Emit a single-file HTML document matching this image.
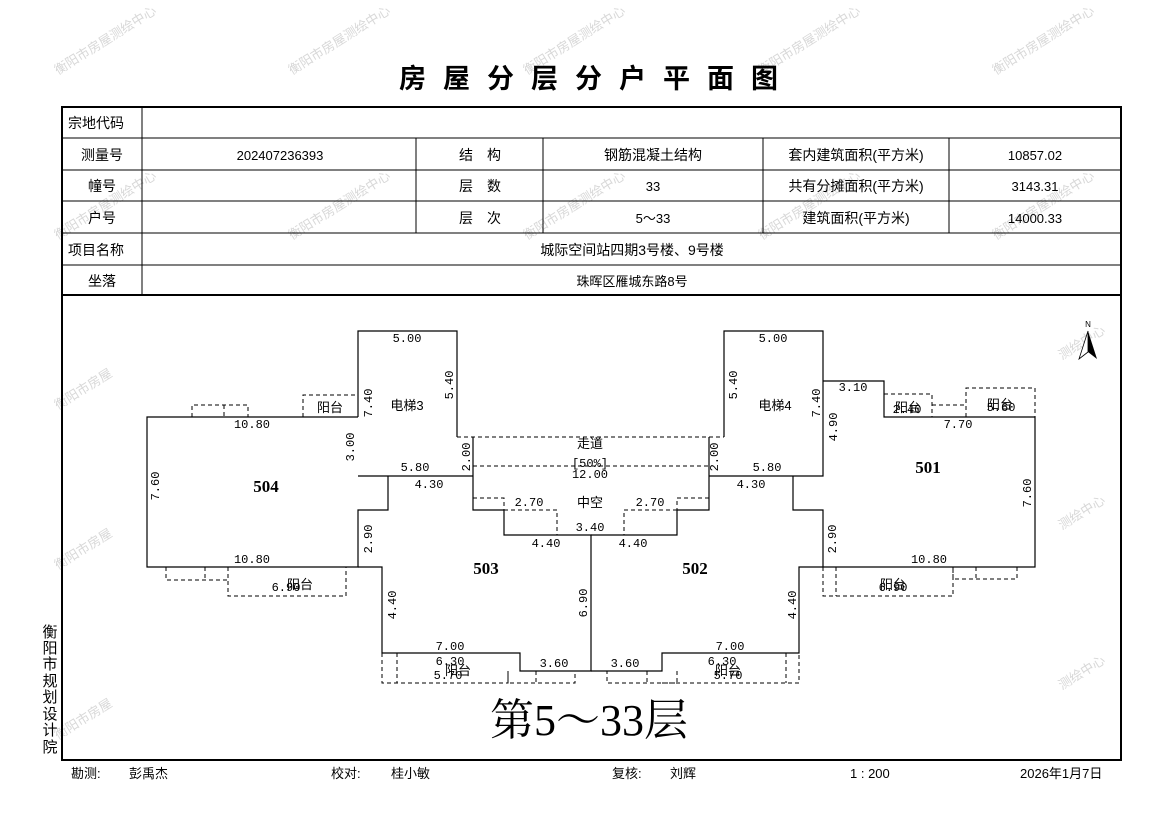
<!DOCTYPE html>
<html><head><meta charset="utf-8"><style>
html,body{margin:0;padding:0;background:#fff}
svg{display:block}
text{font-family:"Liberation Sans","Noto Sans CJK SC",sans-serif}
text.d{font-family:"Liberation Mono","DejaVu Sans Mono",monospace;font-size:12px;fill:#000}
.wm{font-size:13px;fill:#d8d8d8}
.t{font-size:14px}
</style></head><body>
<svg width="1169" height="827" viewBox="0 0 1169 827" xmlns="http://www.w3.org/2000/svg">
<g class="wm">
<text transform="translate(58,75) rotate(-32)">衡阳市房屋测绘中心</text>
<text transform="translate(292,75) rotate(-32)">衡阳市房屋测绘中心</text>
<text transform="translate(527,75) rotate(-32)">衡阳市房屋测绘中心</text>
<text transform="translate(762,75) rotate(-32)">衡阳市房屋测绘中心</text>
<text transform="translate(996,75) rotate(-32)">衡阳市房屋测绘中心</text>
<text transform="translate(58,240) rotate(-32)">衡阳市房屋测绘中心</text>
<text transform="translate(292,240) rotate(-32)">衡阳市房屋测绘中心</text>
<text transform="translate(527,240) rotate(-32)">衡阳市房屋测绘中心</text>
<text transform="translate(762,240) rotate(-32)">衡阳市房屋测绘中心</text>
<text transform="translate(996,240) rotate(-32)">衡阳市房屋测绘中心</text>
<text transform="translate(58,410) rotate(-32)">衡阳市房屋</text>
<text transform="translate(58,570) rotate(-32)">衡阳市房屋</text>
<text transform="translate(58,740) rotate(-32)">衡阳市房屋</text>
<text transform="translate(1062,360) rotate(-32)">测绘中心</text>
<text transform="translate(1062,530) rotate(-32)">测绘中心</text>
<text transform="translate(1062,690) rotate(-32)">测绘中心</text>
</g>
<text x="597" y="88" text-anchor="middle" font-size="27" font-weight="bold" letter-spacing="17">房屋分层分户平面图</text>
<rect x="62" y="107" width="1059" height="653" fill="none" stroke="#000" stroke-width="2"/>
<g stroke="#000" stroke-width="1">
<line x1="62" y1="138" x2="1121" y2="138"/>
<line x1="62" y1="170" x2="1121" y2="170"/>
<line x1="62" y1="201" x2="1121" y2="201"/>
<line x1="62" y1="233" x2="1121" y2="233"/>
<line x1="62" y1="265" x2="1121" y2="265"/>
<line x1="62" y1="295" x2="1121" y2="295" stroke-width="2"/>
<line x1="142" y1="107" x2="142" y2="295"/>
<line x1="416" y1="138" x2="416" y2="233"/>
<line x1="543" y1="138" x2="543" y2="233"/>
<line x1="763" y1="138" x2="763" y2="233"/>
<line x1="949" y1="138" x2="949" y2="233"/>
</g>
<g class="t">
<text x="68" y="128">宗地代码</text>
<text x="102" y="160" text-anchor="middle">测量号</text>
<text x="280" y="160" text-anchor="middle" font-size="13">202407236393</text>
<text x="480" y="160" text-anchor="middle">结　构</text>
<text x="653" y="160" text-anchor="middle">钢筋混凝土结构</text>
<text x="856" y="160" text-anchor="middle">套内建筑面积(平方米)</text>
<text x="1035" y="160" text-anchor="middle" font-size="13">10857.02</text>
<text x="102" y="191" text-anchor="middle">幢号</text>
<text x="480" y="191" text-anchor="middle">层　数</text>
<text x="653" y="191" text-anchor="middle" font-size="13">33</text>
<text x="856" y="191" text-anchor="middle">共有分摊面积(平方米)</text>
<text x="1035" y="191" text-anchor="middle" font-size="13">3143.31</text>
<text x="102" y="223" text-anchor="middle">户号</text>
<text x="480" y="223" text-anchor="middle">层　次</text>
<text x="653" y="223" text-anchor="middle" font-size="13">5～33</text>
<text x="856" y="223" text-anchor="middle">建筑面积(平方米)</text>
<text x="1035" y="223" text-anchor="middle" font-size="13">14000.33</text>
<text x="68" y="255">项目名称</text>
<text x="632" y="255" text-anchor="middle">城际空间站四期3号楼、9号楼</text>
<text x="102" y="286" text-anchor="middle">坐落</text>
<text x="632" y="286" text-anchor="middle" font-size="13">珠晖区雁城东路8号</text>
</g>
<g fill="none" stroke="#000" stroke-width="1.2">
<polyline points="358,417 147,417 147,567 358,567 358,510 388,510 388,476"/>
<polyline points="358,417 358,331 457,331 457,437"/>
<polyline points="358,476 473,476"/>
<polyline points="473,437 473,510 504,510 504,535 591,535 591,671 520,671 520,653 382,653 382,567 358,567"/>
<polyline points="709,437 709,510 677,510 677,535 591,535"/>
<polyline points="591,671 662,671 662,653 799,653 799,567 823,567"/>
<polyline points="724,437 724,331 823,331 823,476 709,476"/>
<polyline points="823,381 884,381 884,417 1035,417 1035,567 823,567 823,510 793,510 793,476"/>
</g>
<g fill="none" stroke="#000" stroke-width="1" stroke-dasharray="4,3">
<line x1="457" y1="437" x2="724" y2="437"/>
<line x1="473" y1="466" x2="709" y2="466"/>
<polyline points="192,417 192,405 248,405 248,417"/><line x1="224" y1="405" x2="224" y2="417"/>
<polyline points="303,417 303,395 358,395"/>
<polyline points="166,567 166,580 228,580"/><line x1="205" y1="567" x2="205" y2="580"/>
<polyline points="228,567 228,596 346,596 346,567"/>
<polyline points="382,653 382,683 508,683 508,671"/><line x1="397" y1="653" x2="397" y2="683"/>
<polyline points="508,671 508,683 575,683 575,671"/><line x1="536" y1="671" x2="536" y2="683"/>
<polyline points="473,498 504,498 504,510"/>
<polyline points="504,510 557,510 557,535"/>
<polyline points="709,498 677,498 677,510"/>
<polyline points="677,510 624,510 624,535"/>
<polyline points="677,671 677,683 607,683 607,671"/><line x1="647" y1="671" x2="647" y2="683"/>
<polyline points="662,683 799,683 799,653"/><line x1="786" y1="653" x2="786" y2="683"/>
<polyline points="823,567 823,596 953,596 953,567"/><line x1="836" y1="567" x2="836" y2="596"/>
<polyline points="953,567 953,579 1017,579 1017,567"/><line x1="976" y1="567" x2="976" y2="579"/>
<polyline points="884,394 932,394 932,417"/>
<polyline points="932,405 966,405 966,417"/>
<polyline points="966,417 966,388 1035,388 1035,417"/>
</g>
<g text-anchor="middle">
<text class="d" x="407" y="342">5.00</text>
<text class="d" transform="translate(453,385) rotate(-90)">5.40</text>
<text class="d" transform="translate(372,403) rotate(-90)">7.40</text>
<text class="d" x="252" y="428">10.80</text>
<text class="d" transform="translate(354,447) rotate(-90)">3.00</text>
<text class="d" x="415" y="471">5.80</text>
<text class="d" x="429" y="488">4.30</text>
<text class="d" transform="translate(159,486) rotate(-90)">7.60</text>
<text class="d" transform="translate(372,539) rotate(-90)">2.90</text>
<text class="d" x="252" y="563">10.80</text>
<text class="d" x="286" y="591">6.90</text>
<text class="d" transform="translate(396,605) rotate(-90)">4.40</text>
<text class="d" transform="translate(587,603) rotate(-90)">6.90</text>
<text class="d" x="450" y="650">7.00</text>
<text class="d" x="450" y="665">6.30</text>
<text class="d" x="448" y="679">5.70</text>
<text class="d" x="554" y="667">3.60</text>
<text class="d" x="529" y="506">2.70</text>
<text class="d" x="546" y="547">4.40</text>
<text class="d" x="590" y="531">3.40</text>
<text class="d" x="590" y="467">[50%]</text>
<text class="d" x="590" y="478">12.00</text>
<text class="d" transform="translate(470,457) rotate(-90)">2.00</text>
<text class="d" x="773" y="342">5.00</text>
<text class="d" transform="translate(737,385) rotate(-90)">5.40</text>
<text class="d" transform="translate(820,403) rotate(-90)">7.40</text>
<text class="d" x="853" y="391">3.10</text>
<text class="d" transform="translate(837,427) rotate(-90)">4.90</text>
<text class="d" x="958" y="428">7.70</text>
<text class="d" x="907" y="413">2.40</text>
<text class="d" x="1001" y="411">5.60</text>
<text class="d" transform="translate(1031,493) rotate(-90)">7.60</text>
<text class="d" x="929" y="563">10.80</text>
<text class="d" x="893" y="591">6.90</text>
<text class="d" transform="translate(836,539) rotate(-90)">2.90</text>
<text class="d" transform="translate(796,605) rotate(-90)">4.40</text>
<text class="d" x="730" y="650">7.00</text>
<text class="d" x="722" y="665">6.30</text>
<text class="d" x="728" y="679">5.70</text>
<text class="d" x="625" y="667">3.60</text>
<text class="d" x="650" y="506">2.70</text>
<text class="d" x="633" y="547">4.40</text>
<text class="d" x="767" y="471">5.80</text>
<text class="d" x="751" y="488">4.30</text>
<text class="d" transform="translate(718,457) rotate(-90)">2.00</text>
</g>
<g font-size="13" text-anchor="middle">
<text x="407" y="410">电梯3</text>
<text x="775" y="410">电梯4</text>
<text x="590" y="448">走道</text>
<text x="590" y="507">中空</text>
<text x="330" y="412">阳台</text>
<text x="300" y="589">阳台</text>
<text x="458" y="675">阳台</text>
<text x="728" y="675">阳台</text>
<text x="893" y="589">阳台</text>
<text x="908" y="412">阳台</text>
<text x="1000" y="409">阳台</text>
</g>
<g font-weight="bold" font-size="17" text-anchor="middle">
<text x="266" y="492" style="font-family:'Liberation Serif',serif">504</text>
<text x="486" y="574" style="font-family:'Liberation Serif',serif">503</text>
<text x="695" y="574" style="font-family:'Liberation Serif',serif">502</text>
<text x="928" y="473" style="font-family:'Liberation Serif',serif">501</text>
</g>
<text x="1088" y="327" font-size="8" text-anchor="middle">N</text>
<polygon points="1088,331 1079,359 1088,352" fill="#fff" stroke="#000" stroke-width="0.8"/>
<polygon points="1088,331 1097,359 1088,352" fill="#000"/>
<text x="589" y="735" text-anchor="middle" font-size="44" style="font-family:'Liberation Serif','Noto Serif CJK SC',serif">第5～33层</text>
<g font-size="15" text-anchor="middle">
<text x="50" y="637">衡</text><text x="50" y="653">阳</text><text x="50" y="669">市</text><text x="50" y="686">规</text><text x="50" y="702">划</text><text x="50" y="719">设</text><text x="50" y="735">计</text><text x="50" y="752">院</text>
</g>
<g font-size="13">
<text x="71" y="778">勘测:</text><text x="129" y="778">彭禹杰</text>
<text x="331" y="778">校对:</text><text x="391" y="778">桂小敏</text>
<text x="612" y="778">复核:</text><text x="670" y="778">刘辉</text>
<text x="850" y="778">1 : 200</text>
<text x="1020" y="778">2026年1月7日</text>
</g>
</svg>
</body></html>
